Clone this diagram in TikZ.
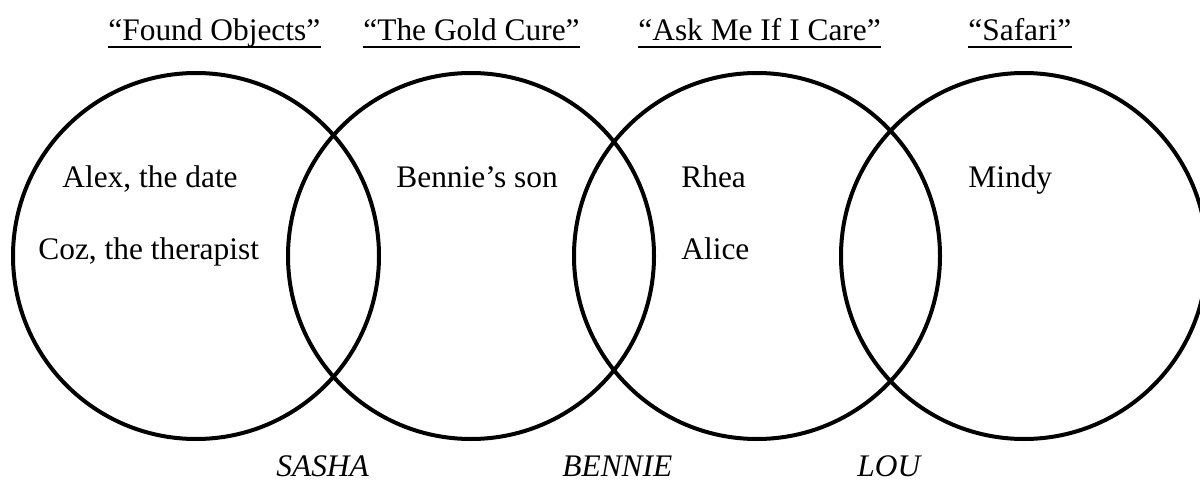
\documentclass[tikz,border=0pt]{standalone}
\usepackage{fontspec}
\setmainfont{Liberation Serif}
\begin{document}
\begin{tikzpicture}[x=0.5pt,y=-0.5pt,
    ring/.style={circle,draw,line width=2pt,minimum size=183pt,inner sep=0pt},
    txt/.style={anchor=base west,inner sep=0pt,font=\fontsize{15.7}{19}\selectfont},
    who/.style={txt,font=\fontsize{15.7}{19}\selectfont\itshape}]
    \useasboundingbox (0,0) rectangle (1200,482);
    \foreach \x [count=\i] in {196,471,757,1024} {
        \node[ring] (c\i) at (\x,256) {};
    }
    % story titles
    \node[txt] (s1) at (108,40) {“Found Objects”};
    \node[txt] (s2) at (363,40) {“The Gold Cure”};
    \node[txt] (s3) at (638,40) {“Ask Me If I Care”};
    \node[txt] (s4) at (968,40) {“Safari”};
    \foreach \i in {1,...,4}
        \draw[line width=1.1pt] ([yshift=-3.5pt]s\i.base west) -- ([yshift=-3.5pt]s\i.base east);
    % characters
    \node[txt] (alex) at (62,187) {Alex, the date};
    \node[txt] (coz) at (38,259) {Coz, the therapist};
    \node[txt] (son) at (396,187) {Bennie’s son};
    \node[txt] (rhea) at (681,187) {Rhea};
    \node[txt] (alice) at (681,259) {Alice};
    \node[txt] (mindy) at (968,187) {Mindy};
    % shared
    \node[who] (sasha) at (276,476) {SASHA};
    \node[who] (bennie) at (562,476) {BENNIE};
    \node[who] (lou) at (857,476) {LOU};
\end{tikzpicture}
\end{document}
